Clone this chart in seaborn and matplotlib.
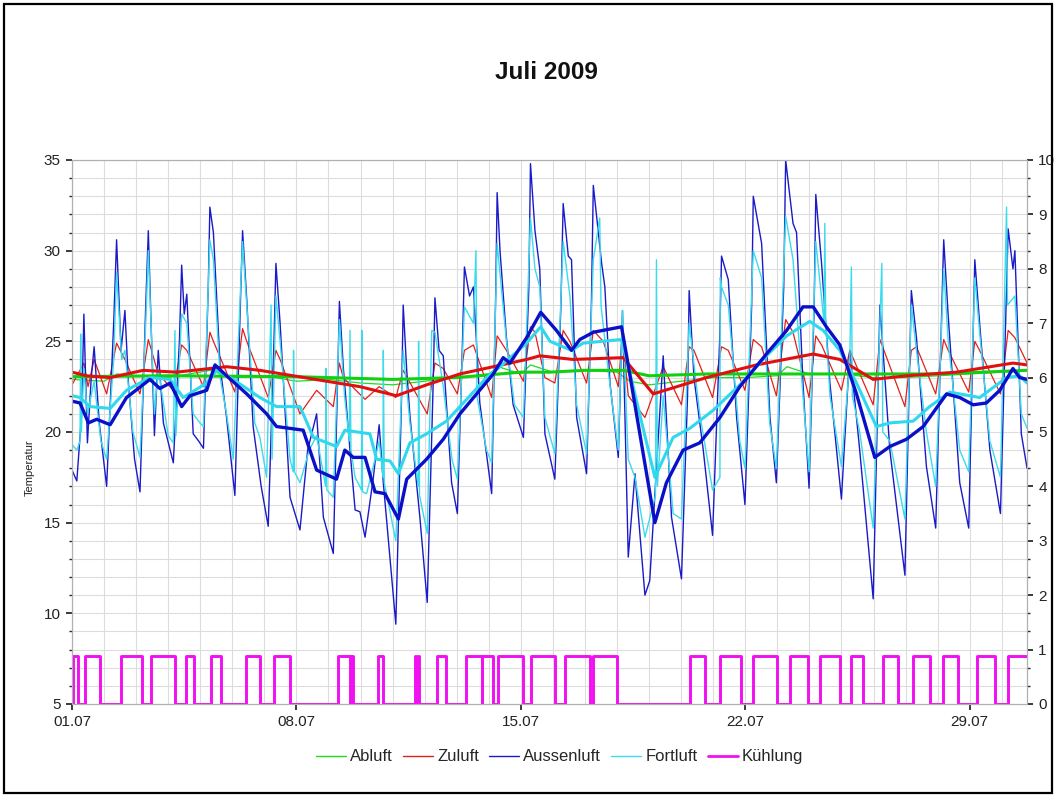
import numpy as np
import pandas as pd
import matplotlib.pyplot as plt
import seaborn as sns
from matplotlib.lines import Line2D
from matplotlib.patches import Rectangle
from matplotlib.ticker import MultipleLocator, FixedLocator

sns.set_theme(style='white')
plt.rcParams['font.family'] = ['Liberation Sans', 'DejaVu Sans']

# ---------------------------------------------------------------
# Daten (Tage ab 01.07 00:00, Temperatur in °C), aus dem Bild gelesen
# ---------------------------------------------------------------
datum_ticks = [0, 7, 14, 21, 28]
datum_labels = ['01.07', '08.07', '15.07', '22.07', '29.07']

aussen_tag = [0.00, 0.15, 0.30, 0.37, 0.48, 0.60, 0.69, 0.85, 1.08, 1.30, 1.39, 1.53, 1.65, 1.76, 1.95,
              2.12, 2.30, 2.38, 2.57, 2.69, 2.85, 3.16, 3.35, 3.42, 3.50, 3.58, 3.78, 3.95, 4.10, 4.25,
              4.30, 4.41, 4.62, 4.82, 5.08, 5.25, 5.32, 5.45, 5.65, 5.90, 6.12, 6.30, 6.36, 6.49, 6.80,
              7.11, 7.35, 7.63, 7.84, 8.15, 8.30, 8.34, 8.46, 8.67, 8.83, 8.98, 9.14, 9.40, 9.58, 9.71,
              10.10, 10.28, 10.33, 10.44, 10.54, 10.85, 11.08, 11.27, 11.32, 11.45, 11.58, 11.84, 12.02,
              12.18, 12.24, 12.40, 12.52, 12.72, 13.09, 13.22, 13.26, 13.35, 13.55, 13.76, 14.08, 14.25,
              14.30, 14.44, 14.59, 14.75, 15.06, 15.25, 15.32, 15.48, 15.58, 15.74, 16.05, 16.20, 16.26,
              16.52, 16.62, 16.78, 17.04, 17.17, 17.35, 17.56, 17.87, 18.02, 18.30, 18.44, 18.70, 19.01,
              19.20, 19.25, 19.40, 19.69, 19.98, 20.20, 20.26, 20.47, 20.73, 20.99, 21.20, 21.25, 21.51,
              21.77, 21.97, 22.20, 22.26, 22.49, 22.60, 22.80, 22.99, 23.15, 23.20, 23.38, 23.64, 24.00,
              24.26, 24.57, 24.99, 25.20, 25.51, 25.98, 26.18, 26.34, 26.65, 26.94, 27.19, 27.33, 27.69,
              27.97, 28.16, 28.31, 28.63, 28.96, 29.20, 29.35, 29.41, 29.61, 29.79]
aussen_temp = [17.9, 17.3, 21.0, 26.5, 19.4, 23.0, 24.7, 20.5, 17.0, 26.0, 30.6, 24.5, 26.7, 22.7, 18.5,
               16.7, 27.0, 31.1, 19.8, 24.5, 20.5, 18.3, 25.0, 29.2, 26.5, 27.6, 19.9, 19.5, 19.1, 28.0,
               32.4, 31.0, 23.6, 20.8, 16.5, 27.0, 31.1, 27.3, 20.3, 17.0, 14.8, 25.0, 29.3, 26.0, 16.4,
               14.6, 19.0, 21.0, 15.3, 13.3, 24.0, 27.2, 23.6, 19.0, 15.7, 15.6, 14.2, 17.5, 20.4, 17.2,
               9.4, 22.0, 27.0, 23.4, 20.9, 15.3, 10.6, 23.0, 27.4, 24.5, 24.2, 17.2, 15.5,
               25.0, 29.1, 27.5, 28.0, 21.6, 16.6, 28.0, 33.2, 30.0, 25.2, 21.5, 19.7, 28.0,
               34.8, 31.1, 29.0, 19.9, 17.4, 27.0, 32.6, 29.7, 29.5, 20.8, 17.7, 27.0, 33.6,
               29.3, 28.0, 22.7, 18.6, 26.7, 13.1, 17.7, 11.0, 11.8, 20.0, 24.2, 15.3, 11.9,
               22.0, 27.8, 23.0, 19.0, 14.3, 25.0, 29.7, 28.4, 20.8, 16.0, 27.0, 33.0, 30.4,
               20.8, 17.2, 28.0, 35.0, 31.5, 31.0, 22.7, 16.9, 27.0, 33.1, 29.3, 22.7, 16.3,
               24.5, 19.0, 10.8, 27.0, 19.0, 12.1, 27.8, 25.2, 18.1, 14.7, 30.6, 26.4, 17.2,
               14.7, 29.5, 26.0, 19.0, 15.5, 31.2, 29.0, 30.0, 19.9, 18.0]

fort_tag = [0.00, 0.15, 0.25, 0.27, 0.29, 0.37, 0.48, 0.69, 0.90, 1.08, 1.30, 1.39, 1.55, 1.65, 1.90,
            2.12, 2.30, 2.38, 2.57, 2.69, 3.00, 3.16, 3.21, 3.24, 3.42, 3.58, 3.78, 3.99, 4.10, 4.30,
            4.41, 4.62, 4.82, 5.03, 5.32, 5.45, 5.70, 5.86, 6.07, 6.21, 6.24, 6.36, 6.49, 6.80, 6.90,
            6.91, 6.94, 7.11, 7.40, 7.63, 7.91, 7.92, 7.95, 8.15, 8.34, 8.50, 8.65, 8.67, 8.70, 8.83,
            9.03, 9.04, 9.06, 9.19, 9.45, 9.58, 9.70, 9.71, 9.74, 10.10, 10.33, 10.54, 10.80, 10.81,
            10.84, 11.08, 11.22, 11.32, 11.58, 11.85, 12.02, 12.24, 12.52, 12.60, 12.63, 12.93, 13.09,
            13.26, 13.55, 13.80, 14.08, 14.30, 14.44, 14.59, 14.75, 15.06, 15.32, 15.53, 15.74, 16.05,
            16.26, 16.46, 16.50, 16.75, 17.04, 17.17, 17.35, 17.56, 17.87, 18.20, 18.23, 18.26, 18.44,
            18.75, 19.01, 19.25, 19.58, 19.98, 20.21, 20.22, 20.26, 20.47, 20.83, 20.99, 21.25, 21.51,
            21.76, 21.97, 22.26, 22.49, 22.80, 22.99, 23.20, 23.46, 23.48, 23.51, 23.64, 24.00, 24.26,
            24.31, 24.34, 24.57, 24.99, 25.20, 25.26, 25.29, 25.51, 25.98, 26.18, 26.34, 26.65, 26.94,
            27.19, 27.33, 27.69, 27.97, 28.16, 28.31, 28.63, 28.96, 29.15, 29.18, 29.41, 29.61, 29.79]
fort_temp = [19.3, 19.0, 19.5, 25.4, 20.0, 23.5, 21.0, 22.8, 19.5, 18.5, 24.0, 28.8, 24.0, 24.5, 20.0,
             18.6, 26.0, 30.0, 21.0, 23.5, 19.8, 19.4, 25.6, 19.8, 26.5, 26.0, 21.0, 20.5, 20.3, 30.6,
             29.5, 23.0, 21.0, 18.5, 30.5, 27.0, 20.5, 19.7, 17.5, 27.0, 18.5, 27.5, 25.0, 18.5, 17.8,
             24.5, 17.8, 17.2, 19.0, 19.8, 17.0, 23.5, 16.8, 16.4, 26.2, 22.0, 19.5, 25.6, 19.0, 17.5,
             16.8, 25.6, 16.7, 16.6, 18.5, 19.5, 17.5, 24.5, 17.2, 14.0, 24.5, 20.5, 17.0, 25.0,
             16.5, 14.4, 25.6, 25.5, 22.5, 18.5, 17.4, 26.9, 26.0, 30.0, 22.0, 19.0, 18.3,
             30.4, 25.0, 21.5, 20.8, 31.8, 29.0, 28.0, 20.8, 18.8, 30.5, 27.5, 21.5, 18.8,
             29.5, 31.8, 27.0, 23.0, 19.0, 26.7, 18.5, 17.5, 14.2, 16.5, 29.5, 17.0, 22.0,
             15.5, 15.2, 26.0, 21.0, 16.8, 17.5, 28.5, 28.0, 27.0, 19.5, 18.0, 30.0, 28.5,
             20.5, 18.0, 31.9, 29.5, 22.0, 17.8, 30.5, 26.0, 31.5, 26.0, 22.0, 18.1, 24.0,
             29.1, 22.0, 20.0, 14.7, 26.0, 29.3, 20.0, 19.5, 15.2, 27.0, 24.5, 20.0, 17.0,
             29.0, 25.0, 19.0, 17.8, 28.5, 25.5, 19.5, 17.5, 32.4, 27.0, 27.5, 21.0, 20.2]

zu_tag = [0.00, 0.37, 0.50, 0.69, 1.08, 1.39, 1.65, 2.12, 2.38, 2.69, 3.16, 3.42, 3.58, 4.10, 4.30, 4.41,
          5.08, 5.32, 5.45, 6.12, 6.36, 6.49, 7.11, 7.63, 8.15, 8.34, 8.46, 9.14, 9.58, 10.10, 10.33,
          11.08, 11.32, 11.58, 12.02, 12.24, 12.52, 13.09, 13.26, 13.55, 14.08, 14.30, 14.44, 14.75,
          15.06, 15.32, 15.53, 16.05, 16.26, 16.57, 17.04, 17.17, 17.35, 17.87, 18.44, 19.01, 19.25,
          19.40, 19.98, 20.26, 20.47, 20.99, 21.25, 21.51, 21.97, 22.26, 22.49, 22.99, 23.20, 23.38,
          24.00, 24.26, 24.99, 25.20, 25.98, 26.18, 26.34, 26.94, 27.19, 27.33, 27.97, 28.16, 28.31,
          28.96, 29.20, 29.41, 29.79]
zu_temp = [22.6, 23.8, 22.5, 24.0, 22.1, 24.9, 24.0, 22.1, 25.1, 23.2, 22.3, 24.8, 24.5, 22.5, 25.5, 25.0,
           22.2, 25.7, 25.0, 21.9, 24.5, 24.0, 21.0, 22.3, 21.4, 23.8, 23.0, 21.8, 22.5, 21.9, 23.4,
           21.0, 23.8, 23.5, 22.1, 24.5, 24.8, 21.9, 25.3, 24.5, 22.8, 25.8, 25.5, 23.0,
           22.7, 25.6, 25.0, 22.7, 25.6, 25.0, 22.5, 25.5, 22.0, 20.8, 23.6, 21.5, 24.7,
           24.5, 21.9, 24.7, 24.5, 22.3, 25.1, 24.7, 22.0, 26.2, 25.5, 21.9, 25.3, 24.8,
           22.3, 24.5, 21.5, 25.1, 21.4, 24.5, 24.7, 22.1, 25.1, 24.5, 22.2, 25.0, 24.5,
           22.1, 25.6, 25.2, 23.8]

ab_tag = [0.0, 1.0, 1.4, 2.0, 3.0, 4.3, 5.0, 6.0, 7.0, 8.0, 9.0, 10.0, 11.0, 12.0, 13.0, 13.3, 14.0,
          14.3, 15.0, 16.0, 17.0, 17.4, 18.0, 19.0, 20.0, 21.0, 22.0, 22.3, 23.0, 24.0, 25.0, 26.0,
          27.0, 28.0, 29.0, 29.79]
ab_temp = [22.9, 22.8, 23.2, 23.1, 23.0, 23.4, 23.0, 23.1, 22.8, 22.9, 22.7, 22.6, 22.8, 23.0, 23.2,
           23.6, 23.2, 23.7, 23.3, 23.4, 23.3, 22.8, 22.6, 22.8, 23.0, 23.0, 23.1, 23.6, 23.2, 23.2,
           23.0, 23.0, 23.1, 23.2, 23.3, 23.4]

# gleitende Mittelwerte (dicke Linien)
zu_mittel_tag = [0.00, 0.46, 1.19, 2.22, 3.26, 4.30, 4.82, 5.86, 6.90, 7.94, 8.98, 10.12, 11.06, 12.10,
                 13.14, 14.18, 14.59, 15.63, 17.19, 18.13, 19.79, 21.35, 23.12, 23.95, 24.99, 26.03,
                 27.59, 29.35, 29.79]
zu_mittel = [23.3, 23.1, 23.0, 23.4, 23.3, 23.5, 23.6, 23.4, 23.1, 22.8, 22.5, 22.0, 22.6, 23.2,
             23.6, 24.0, 24.2, 24.0, 24.1, 22.1, 23.0, 23.7, 24.3, 24.0, 22.9, 23.1,
             23.3, 23.8, 23.7]

ab_mittel_tag = [0.0, 3.0, 7.0, 10.0, 12.0, 14.0, 14.9, 16.0, 17.2, 18.0, 19.8, 22.0, 25.0, 27.0, 29.79]
ab_mittel = [23.05, 23.1, 23.05, 22.9, 23.0, 23.3, 23.3, 23.4, 23.4, 23.1, 23.2, 23.2, 23.2, 23.2, 23.4]

aussen_mittel_tag = [0.00, 0.25, 0.51, 0.77, 1.19, 1.70, 2.43, 2.74, 3.06, 3.42, 3.68, 4.20, 4.46, 4.82,
                     5.45, 6.07, 6.38, 7.21, 7.63, 8.25, 8.51, 8.77, 9.14, 9.45, 9.76, 10.18, 10.44,
                     11.06, 11.58, 12.10, 12.62, 13.14, 13.45, 13.66, 14.18, 14.62, 15.11, 15.58, 15.84,
                     16.26, 17.14, 17.30, 18.18, 18.54, 19.06, 19.58, 20.21, 20.83, 21.66, 22.29, 22.80,
                     23.12, 23.53, 23.95, 24.47, 25.04, 25.51, 26.03, 26.55, 27.28, 27.69, 28.11, 28.52,
                     28.94, 29.35, 29.56, 29.79]
aussen_mittel = [21.7, 21.6, 20.5, 20.7, 20.4, 21.9, 22.9, 22.4, 22.7, 21.4, 22.0, 22.3, 23.7, 23.1,
                 22.1, 21.0, 20.3, 20.1, 17.9, 17.4, 19.0, 18.6, 18.6, 16.7, 16.6, 15.2, 17.4,
                 18.5, 19.6, 21.0, 22.1, 23.2, 24.1, 23.8, 25.2, 26.6, 25.6, 24.5, 25.1,
                 25.5, 25.8, 24.2, 15.0, 17.2, 19.0, 19.4, 20.8, 22.5, 24.3, 25.6, 26.9,
                 26.9, 25.8, 24.8, 22.1, 18.6, 19.2, 19.6, 20.3, 22.1, 21.9, 21.5, 21.6,
                 22.3, 23.5, 23.0, 22.9]

fort_mittel_tag = [0.00, 0.25, 0.56, 1.19, 1.70, 2.43, 3.06, 3.47, 4.20, 4.51, 5.03, 5.86, 6.38, 7.11,
                   7.53, 8.25, 8.51, 9.29, 9.50, 9.92, 10.18, 10.54, 11.06, 11.68, 12.31, 12.93, 13.35,
                   14.18, 14.62, 14.91, 15.58, 15.94, 17.14, 17.30, 18.18, 18.75, 19.27, 20.00, 20.83,
                   21.66, 22.29, 23.01, 23.43, 23.95, 24.47, 25.09, 25.51, 26.24, 26.75, 27.38, 28.00,
                   28.31, 29.15, 29.56, 29.79]
fort_mittel = [22.0, 21.9, 21.4, 21.3, 22.3, 23.0, 22.9, 21.9, 22.7, 23.4, 22.9, 21.9, 21.4, 21.4,
               19.7, 19.2, 20.1, 19.9, 18.5, 18.4, 17.7, 19.4, 19.9, 20.6, 21.8, 23.0, 23.6,
               24.9, 25.8, 25.0, 24.5, 24.9, 25.1, 24.0, 17.5, 19.7, 20.2, 21.2, 22.6,
               24.2, 25.3, 26.1, 25.6, 24.5, 22.7, 20.3, 20.5, 20.6, 21.4, 22.2, 22.0,
               21.9, 23.0, 23.1, 22.7]

# Kühlung ein/aus (Tage), Wert im eingeschalteten Zustand
kuehl_ein = [0.04, 0.41, 1.53, 2.45, 3.55, 4.35, 5.43, 6.31, 8.30, 8.70, 9.55, 10.70, 10.78, 11.37, 12.29,
             12.80, 13.30, 14.33, 15.37, 16.25, 19.27, 20.21, 21.24, 22.39, 23.32, 24.31, 25.29, 26.22,
             27.16, 28.22, 29.19]
kuehl_aus = [0.20, 0.87, 2.17, 3.21, 3.80, 4.65, 5.86, 6.80, 8.66, 8.77, 9.71, 10.74, 10.83, 11.68, 12.78,
             13.14, 14.07, 15.06, 16.15, 16.99, 19.74, 20.88, 21.98, 22.95, 23.95, 24.66, 25.76, 26.75,
             27.63, 28.78, 29.85]
kuehl_wert = 0.88

# ---------------------------------------------------------------
k_x, k_y = [0.0], [0.0]
for a, b in zip(kuehl_ein, kuehl_aus):
    k_x += [a, a, b, b]
    k_y += [0, kuehl_wert, kuehl_wert, 0]

fig = plt.figure(figsize=(10.56, 7.96), dpi=100)
ax = fig.add_axes([0.0682, 0.1156, 0.9044, 0.6834])

c_ab, c_zu, c_au, c_fo, c_ku = '#1edc1e', '#e3201b', '#1a1ac8', '#3adcec', '#f010f0'

def linie(x, y, farbe, lw, achse):
    sns.lineplot(x=x, y=y, color=farbe, linewidth=lw, ax=achse,
                 estimator=None, sort=False, legend=False)

linie(ab_tag, ab_temp, c_ab, 0.9, ax)
linie(zu_tag, zu_temp, c_zu, 0.9, ax)
linie(aussen_tag, aussen_temp, c_au, 1.0, ax)
linie(fort_tag, fort_temp, c_fo, 1.0, ax)
linie(ab_mittel_tag, ab_mittel, '#10d010', 2.2, ax)
linie(zu_mittel_tag, zu_mittel, '#e01010', 2.2, ax)
linie(fort_mittel_tag, fort_mittel, '#30d8ee', 2.2, ax)
linie(aussen_mittel_tag, aussen_mittel, '#0a10c8', 2.4, ax)

ax.set_xlim(0, 29.79)
ax.set_ylim(5, 35)
ax.yaxis.set_major_locator(MultipleLocator(5))
ax.yaxis.set_minor_locator(MultipleLocator(1))
ax.xaxis.set_major_locator(FixedLocator(datum_ticks))
ax.xaxis.set_minor_locator(MultipleLocator(1))
ax.set_xticklabels(datum_labels)
ax.grid(True, which='both', color='#dddddd', linewidth=0.8)
ax.set_axisbelow(True)
ax.tick_params(axis='both', which='major', labelsize=11, colors='#222222',
               length=4, direction='out', left=True, bottom=True, pad=4)
ax.tick_params(axis='y', which='minor', length=2, left=True)
ax.set_xlabel('')
ax.set_ylabel('Temperatur', fontsize=8, color='#222222')
ax.yaxis.set_label_coords(-0.039, 0.434)
for s in ax.spines.values():
    s.set_color('#b0b0b0')
    s.set_linewidth(0.8)

ax2 = ax.twinx()
linie(k_x, k_y, c_ku, 2.1, ax2)
ax2.set_ylim(0, 10)
ax2.set_xlim(0, 29.79)
ax2.yaxis.set_major_locator(MultipleLocator(1))
ax2.yaxis.set_minor_locator(MultipleLocator(1 / 3))
ax2.tick_params(axis='y', which='major', labelsize=11, colors='#222222',
                length=4, direction='out', right=True, pad=4)
ax2.tick_params(axis='y', which='minor', length=2, right=True)
ax2.grid(False)
ax2.set_ylabel('')
for s in ax2.spines.values():
    s.set_color('#b0b0b0')
    s.set_linewidth(0.8)

fig.text(0.517, 0.909, 'Juli 2009', ha='center', va='center',
         fontsize=17.5, fontweight='bold', color='#111111')

handles = [Line2D([], [], color=c_ab, lw=1.0),
           Line2D([], [], color=c_zu, lw=1.0),
           Line2D([], [], color=c_au, lw=1.0),
           Line2D([], [], color=c_fo, lw=1.0),
           Line2D([], [], color=c_ku, lw=2.0)]
fig.legend(handles, ['Abluft', 'Zuluft', 'Aussenluft', 'Fortluft', 'Kühlung'],
           loc='center', bbox_to_anchor=(0.530, 0.049), ncol=5, frameon=False,
           fontsize=12, handlelength=1.8, handletextpad=0.25, columnspacing=0.6)

fig.patches.append(Rectangle((0.004, 0.004), 0.992, 0.991, transform=fig.transFigure,
                             fill=False, edgecolor='black', linewidth=1.6))

fig.savefig('out.png', dpi=100)
